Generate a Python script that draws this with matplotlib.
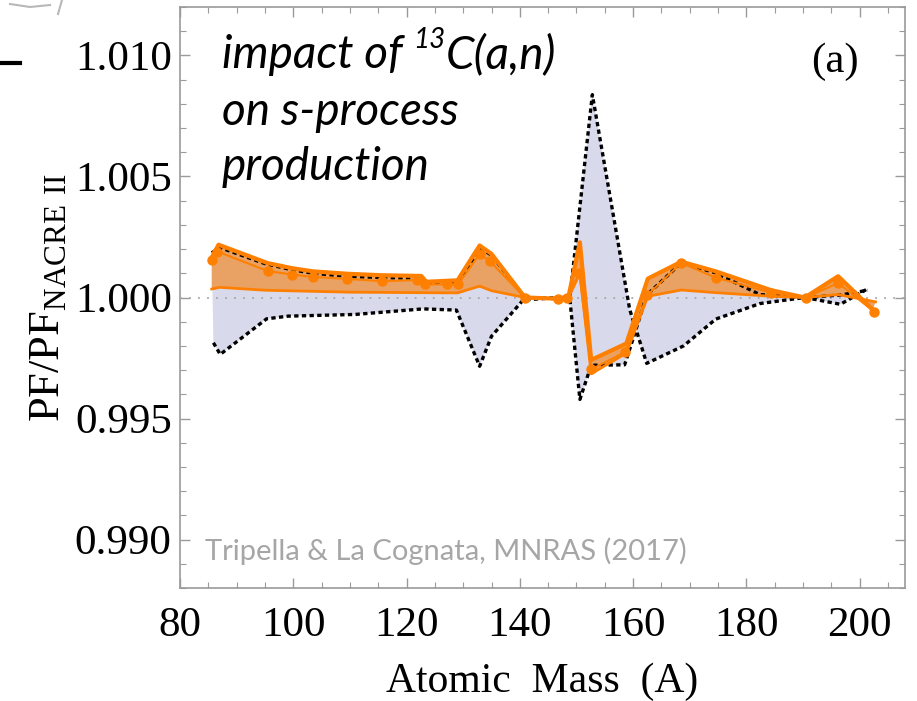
import matplotlib
matplotlib.use('Agg')

import numpy as np
from matplotlib import pyplot as plt
from matplotlib.lines import Line2D

plt.rcParams['mathtext.fontset'] = 'custom'
plt.rcParams['mathtext.rm'] = 'Liberation Serif'
plt.rcParams['font.family'] = ['Liberation Serif', 'DejaVu Serif']

# upper orange envelope (thick line)
orange_hi_x = [85.6, 86.8, 95.5, 99.8, 103.5, 109.6, 115.5, 122.6, 123.5, 129.0, 132.9, 135.0,
               140.9, 146.8, 148.6, 150.6, 152.6, 158.8, 162.6, 168.5, 174.6, 184.4, 190.3,
               196.2, 202.3]
orange_hi_y = [1.00165, 1.00218, 1.00142, 1.00121, 1.00108, 1.00098, 1.00092, 1.00089, 1.00065,
               1.00071, 1.00215, 1.00180, 1.00000, 0.99995, 1.00005, 1.00228, 0.99742, 0.99810,
               1.00078, 1.00148, 1.00108, 1.00030, 1.00000, 1.00088, 0.99950]

# lower orange envelope (thin line)
orange_lo_x = [85.6, 87.0, 95.0, 110.0, 122.0, 129.0, 132.9, 135.0, 140.9, 146.8, 148.6, 150.6,
               152.6, 158.8, 162.6, 168.5, 174.6, 184.4, 190.3, 196.2, 202.8]
orange_lo_y = [1.00035, 1.00042, 1.00030, 1.00022, 1.00020, 1.00019, 1.00047, 1.00028, 1.00000,
               0.99995, 1.00000, 1.00100, 0.99685, 0.99770, 1.00005, 1.00031, 1.00020, 1.00005,
               1.00000, 1.00012, 0.99982]

# central values (dots)
dots_x = [85.6, 86.6, 95.5, 99.8, 103.5, 109.4, 115.7, 121.8, 123.2, 127.1, 129.1, 132.9, 134.7,
          140.9, 146.8, 148.4, 150.5, 152.6, 158.6, 162.5, 168.5, 174.6, 184.4, 190.5, 196.2, 202.5]
dots_y = [1.00154, 1.00190, 1.00109, 1.00095, 1.00085, 1.00077, 1.00067, 1.00072, 1.00054,
          1.00054, 1.00054, 1.00180, 1.00150, 1.00000, 0.99992, 0.99998, 1.00100, 0.99703,
          0.99775, 1.00010, 1.00143, 1.00082, 1.00020, 1.00000, 1.00060, 0.99942]

# NACRE II band, two dotted borders (they cross near A=150 and A=161)
black_a_x = [85.6, 87.2, 95.0, 99.7, 103.5, 109.5, 116.0, 122.5, 123.5, 129.0, 133.3, 135.0,
             140.9, 147.0, 148.8, 152.8, 159.4, 162.4, 168.9, 174.6, 182.4, 190.3, 196.6, 201.4]
black_a_y = [1.00185, 1.00205, 1.00140, 1.00115, 1.00100, 1.00088, 1.00082, 1.00080, 1.00062,
             1.00065, 1.00200, 1.00175, 1.00000, 0.99995, 0.99995, 1.00838, 0.99950, 0.99728,
             0.99800, 0.99911, 0.99975, 1.00000, 0.99972, 1.00036]

black_b_x = [85.9, 87.1, 95.3, 99.1, 110.9, 122.9, 128.8, 132.9, 135.0, 140.6, 147.0, 148.8,
             150.6, 152.6, 158.5, 160.0, 162.4, 168.5, 174.4, 182.4, 190.3, 196.6, 201.4]
black_b_y = [0.99813, 0.99765, 0.99912, 0.99923, 0.99930, 0.99953, 0.99948, 0.99716, 0.99840,
             0.99990, 1.00000, 1.00000, 0.99579, 0.99720, 0.99722, 0.99830, 1.00010, 1.00143,
             1.00103, 1.00012, 1.00000, 1.00010, 1.00030]

x_ticks = [80, 100, 120, 140, 160, 180, 200]
y_ticks = [0.990, 0.995, 1.000, 1.005, 1.010]
y_tick_labels = ['0.990', '0.995', '1.000', '1.005', '1.010']

orange = '#ff8000'
orange_fill = '#e9a264'
lavender = '#d9d9ec'
frame_gray = '#9a9a9a'

fig = plt.figure(figsize=(9.17, 7.01), dpi=100)
ax = fig.add_axes([180 / 917, 113 / 701, 725 / 917, 581 / 701])

# bands
ax.fill(black_a_x + black_b_x[::-1], black_a_y + black_b_y[::-1],
        color=lavender, lw=0, zorder=1)
ax.fill(orange_hi_x + orange_lo_x[::-1], orange_hi_y + orange_lo_y[::-1],
        color=orange_fill, lw=0, zorder=2)

ax.axhline(1.0, color='#a8a8a8', lw=1.3, ls=(0, (1, 4)), zorder=3)

dash = (0, (1.3, 1.0))
ax.plot(black_a_x, black_a_y, color='black', lw=2.4, ls=dash, zorder=4)
ax.plot(black_b_x, black_b_y, color='black', lw=2.4, ls=dash, zorder=4)

ax.plot(orange_hi_x, orange_hi_y, color=orange, lw=3.0, zorder=5)
ax.plot(orange_lo_x, orange_lo_y, color=orange, lw=2.0, zorder=5)
ax.plot(dots_x, dots_y, color=orange, lw=1.5, marker='o', ms=6.5, zorder=6)

ax.set_xlim(80, 208)
ax.set_ylim(0.988, 1.012)
ax.set_xticks(x_ticks)
ax.set_xticks(np.arange(80, 208, 5), minor=True)
ax.set_yticks(y_ticks)
ax.set_yticklabels(y_tick_labels)
ax.set_yticks(np.arange(0.988, 1.0121, 0.001), minor=True)

ax.tick_params(which='both', direction='in', top=True, right=True, color=frame_gray,
               labelsize=31)
ax.tick_params(which='major', length=7, width=1)
ax.tick_params(which='minor', length=4, width=0.8)
ax.tick_params(axis='x', pad=13)
ax.tick_params(axis='y', pad=6)
for s in ax.spines.values():
    s.set_color(frame_gray)
    s.set_linewidth(1.2)

ax.set_xlabel('Atomic  Mass  (A)', fontsize=30, labelpad=13)
ax.set_ylabel(r'PF/PF$_{\mathrm{NACRE\ II}}$', fontsize=32, labelpad=4)

# annotations
sans = ['Lato', 'DejaVu Sans']
t1 = ax.text(0.058, 0.917, 'impact of ', transform=ax.transAxes, fontsize=33,
             style='italic', family=sans, va='center', ha='left')
t2 = ax.annotate('13', xy=(1, 0.55), xycoords=t1, fontsize=20, style='italic',
                 family=sans, va='bottom', ha='left')
ax.annotate('C(a,n)', xy=(1, 0), xycoords=(t2, t1), fontsize=33, style='italic',
            family=sans, va='bottom', ha='left')
ax.text(0.058, 0.819, 'on s-process', transform=ax.transAxes, fontsize=33,
        style='italic', family=sans, va='center', ha='left')
ax.text(0.058, 0.725, 'production', transform=ax.transAxes, fontsize=33,
        style='italic', family=sans, va='center', ha='left')

ax.text(0.903, 0.905, '(a)', transform=ax.transAxes, fontsize=31, ha='center', va='center')

ax.text(0.034, 0.063, 'Tripella & La Cognata, MNRAS (2017)', transform=ax.transAxes,
        fontsize=21, color='#a6a6a6', family=sans, va='center', ha='left')

# stray marks at the left edge of the slide (bullet and a cropped scribble)
fig.add_artist(Line2D([2 / 917, 20 / 917], [1 - 63 / 701, 1 - 63 / 701], color='black', lw=3))
fig.add_artist(Line2D([10 / 917, 30 / 917, 50 / 917], [1 - 4 / 701, 1 - 7 / 701, 1 - 5 / 701],
                      color='#b8b8b8', lw=1.5))
fig.add_artist(Line2D([62 / 917, 58 / 917], [1.0, 1 - 14 / 701], color='#b8b8b8', lw=1.5))

plt.savefig('out.png', dpi=100)
